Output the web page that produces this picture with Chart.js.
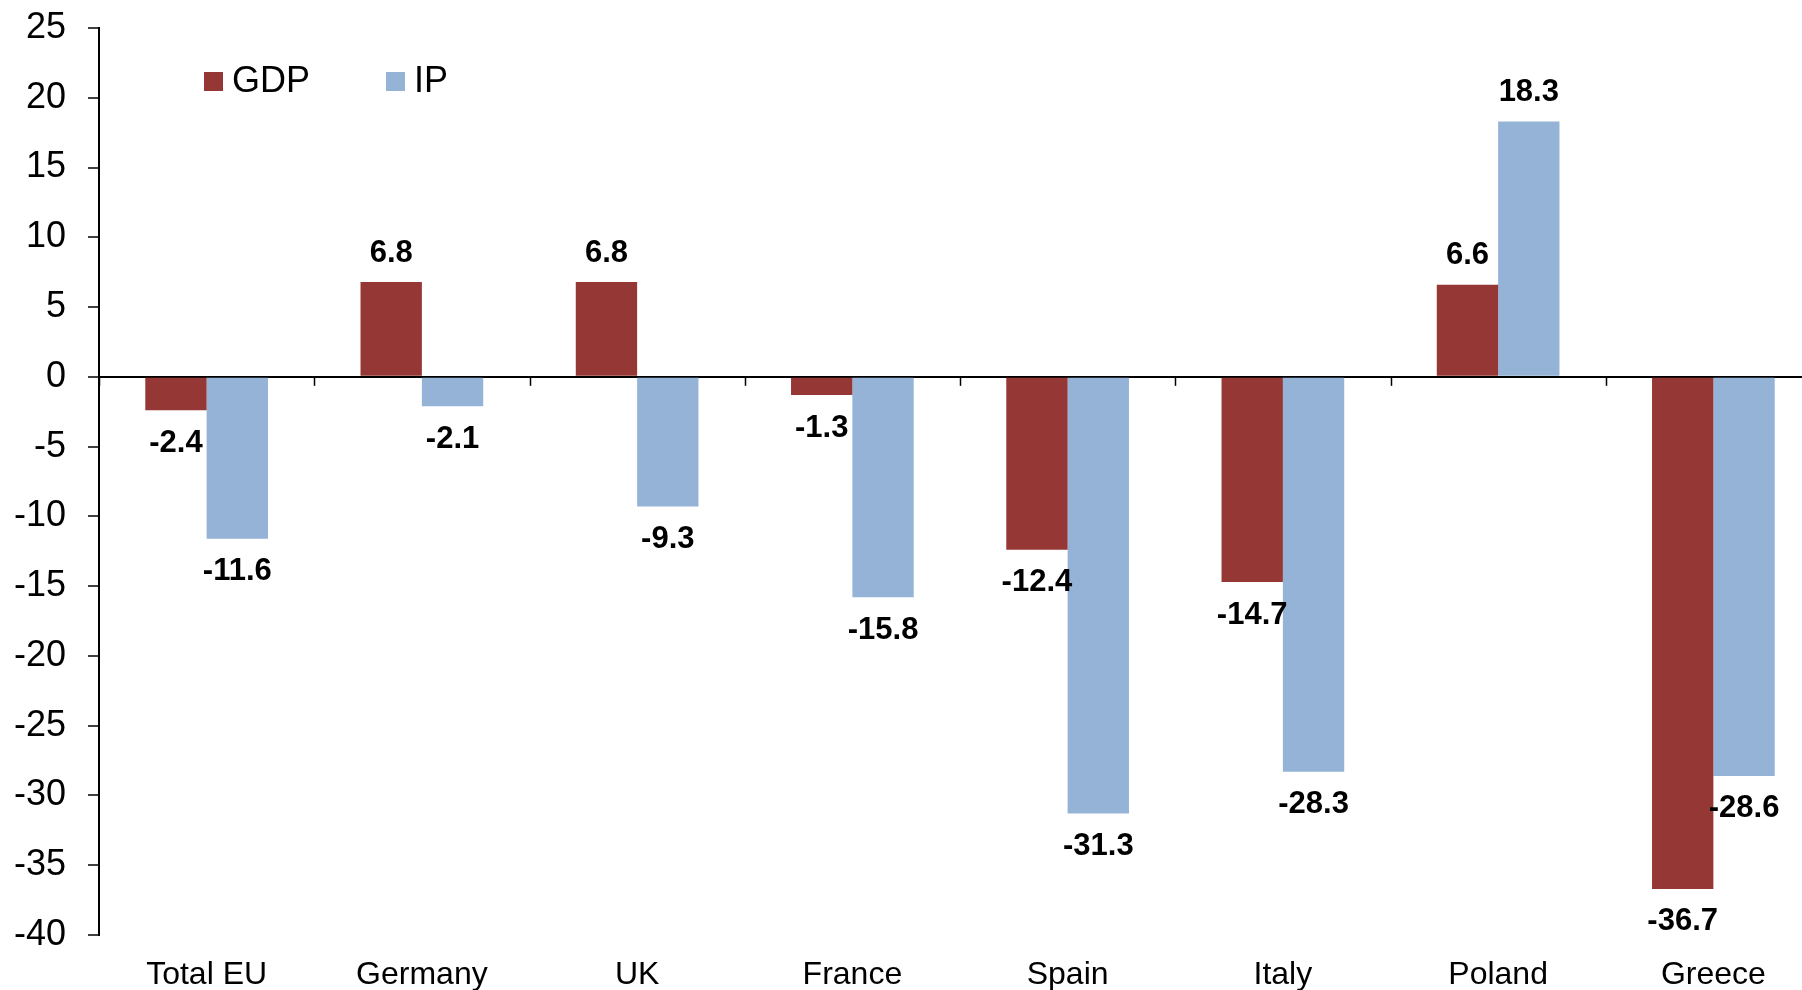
<!DOCTYPE html>
<html>
<head>
<meta charset="utf-8">
<script src="https://cdn.jsdelivr.net/npm/chart.js@4.4.1/dist/chart.umd.min.js"></script>
<style>
    html, body { margin: 0; padding: 0; background: #fff; }
    #wrap { width: 1802px; height: 990px; overflow: hidden; position: relative; }
    /* plot runs a little past the right edge in the original */
    #inner { width: 1821px; height: 990px; position: relative; }
</style>
</head>
<body>
<div id="wrap"><div id="inner"><canvas id="gdpChart"></canvas></div></div>
<script>
const categories = ['Total EU', 'Germany', 'UK', 'France', 'Spain', 'Italy', 'Poland', 'Greece'];
const gdpValues = [-2.4, 6.8, 6.8, -1.3, -12.4, -14.7, 6.6, -36.7];
const ipValues = [-11.6, -2.1, -9.3, -15.8, -31.3, -28.3, 18.3, -28.6];
const yTicks = [25, 20, 15, 10, 5, 0, -5, -10, -15, -20, -25, -30, -35, -40];

const gdpColor = '#953735';
const ipColor = '#95B3D7';

// value labels above/below each bar, plus the little category ticks on the zero line
const barLabels = {
    id: 'barLabels',
    afterDatasetsDraw(chart) {
        const ctx = chart.ctx;
        const xScale = chart.scales.x;
        const yScale = chart.scales.y;
        const zeroY = yScale.getPixelForValue(0);

        ctx.save();
        ctx.strokeStyle = '#000';
        ctx.lineWidth = 1.5;
        const step = (xScale.right - xScale.left) / categories.length;
        for (let i = 0; i <= categories.length; i++) {
            const x = Math.round(xScale.left + i * step) + 0.5;
            ctx.beginPath();
            ctx.moveTo(x, zeroY);
            ctx.lineTo(x, zeroY + 9);
            ctx.stroke();
        }

        ctx.fillStyle = '#000';
        ctx.font = 'bold 31px "Liberation Sans", Arial, sans-serif';
        ctx.textAlign = 'center';
        ctx.textBaseline = 'middle';
        chart.data.datasets.forEach((ds, di) => {
            const meta = chart.getDatasetMeta(di);
            meta.data.forEach((bar, i) => {
                const v = ds.data[i];
                const y = v >= 0 ? bar.y - 29 : bar.y + 33;
                ctx.fillText(v.toFixed(1), bar.x, y);
            });
        });
        ctx.restore();
    }
};

// legend sitting inside the plot, top-left
const innerLegend = {
    id: 'innerLegend',
    afterDraw(chart) {
        const ctx = chart.ctx;
        const items = [
            { text: 'GDP', color: gdpColor, x: 204 },
            { text: 'IP', color: ipColor, x: 386 }
        ];
        ctx.save();
        ctx.font = '36px "Liberation Sans", Arial, sans-serif';
        ctx.textBaseline = 'middle';
        ctx.textAlign = 'left';
        items.forEach(it => {
            ctx.fillStyle = it.color;
            ctx.fillRect(it.x, 72, 19, 19);
            ctx.fillStyle = '#000';
            ctx.fillText(it.text, it.x + 28, 82);
        });
        ctx.restore();
    }
};

new Chart(document.getElementById('gdpChart'), {
    type: 'bar',
    data: {
        labels: categories,
        datasets: [
            {
                label: 'GDP',
                data: gdpValues,
                backgroundColor: gdpColor,
                barPercentage: 1,
                categoryPercentage: 0.57
            },
            {
                label: 'IP',
                data: ipValues,
                backgroundColor: ipColor,
                barPercentage: 1,
                categoryPercentage: 0.57
            }
        ]
    },
    options: {
        responsive: true,
        maintainAspectRatio: false,
        animation: false,
        layout: { padding: { top: 28, right: 0, left: 0, bottom: 0 } },
        plugins: {
            legend: { display: false },
            tooltip: { enabled: false }
        },
        scales: {
            x: {
                grid: { display: false },
                border: { display: false },
                ticks: {
                    color: '#000',
                    maxRotation: 0,
                    autoSkip: false,
                    padding: 13,
                    font: { family: '"Liberation Sans", Arial, sans-serif', size: 32 }
                },
                afterFit(scale) { scale.height = 55; }
            },
            y: {
                min: -40,
                max: 25,
                afterBuildTicks(scale) {
                    scale.ticks = yTicks.map(v => ({ value: v }));
                },
                border: { display: true, color: '#000', width: 2 },
                grid: {
                    drawOnChartArea: true,
                    color: c => (c.tick && c.tick.value === 0 ? '#000' : 'rgba(0,0,0,0)'),
                    lineWidth: 2,
                    tickColor: '#000',
                    tickLength: 11,
                    tickWidth: 1.5
                },
                ticks: {
                    color: '#000',
                    padding: 22,
                    font: { family: '"Liberation Sans", Arial, sans-serif', size: 36 }
                },
                afterFit(scale) {
                    scale.width = 99;
                    scale.paddingTop = 0;
                    scale.paddingBottom = 0;
                }
            }
        }
    },
    plugins: [barLabels, innerLegend]
});
</script>
</body>
</html>
